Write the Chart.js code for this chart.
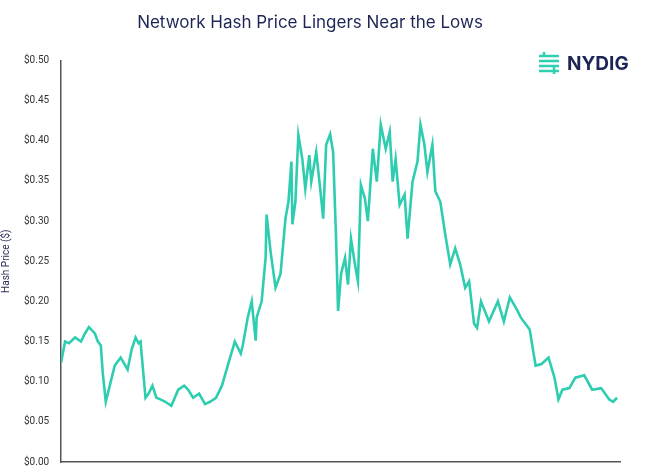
<!DOCTYPE html>
<html>
<head>
<meta charset="utf-8">
<script src="https://cdn.jsdelivr.net/npm/chart.js@4.4.0/dist/chart.umd.min.js"></script>
<style>
  body { margin: 0; background: #fff; overflow: hidden; }
  #wrap { position: relative; width: 660px; height: 469px; overflow: hidden; }
  #logo { position: absolute; left: 536px; top: 50px; font: bold 19px "Inter", "Roboto", sans-serif; color: #1d2557; display: flex; align-items: center; }
  #logo svg { margin-right: 5px; }
</style>
</head>
<body>
<div id="wrap">
  <canvas id="hashChart" width="660" height="480"></canvas>
  <div id="logo">
    <svg width="26" height="26" viewBox="0 0 26 26">
      <path d="M3 6 H23 M3 11 H23 M3 16 H23 M3 21 H23" stroke="#2fcfb0" stroke-width="2.5" fill="none"/>
      <path d="M8 2 V6 M18 16 V24" stroke="#2fcfb0" stroke-width="2.5"/>
    </svg>NYDIG
  </div>
</div>
<script>
// positions along the time axis (arbitrary day-like units) and hash price in $
const xs = [0, 4, 8, 14, 20, 24, 28, 34, 37, 40, 42, 45, 50, 54, 60, 67, 71, 75, 78, 80,
  85, 88, 92, 96, 100, 105, 111, 118, 124, 128, 133, 139, 145, 150, 156, 162, 169, 175, 181, 183,
  188, 192, 196, 197, 202, 206, 207, 211, 216, 221, 226, 229, 232, 233, 236, 239, 243, 246, 250, 252,
  257, 261, 264, 267, 271, 274, 277, 279, 282, 286, 289, 292, 296, 299, 302, 306, 309, 314, 318, 322,
  327, 331, 334, 337, 341, 346, 349, 354, 359, 362, 366, 369, 374, 377, 382, 387, 392, 397, 402, 407,
  411, 416, 419, 423, 431, 440, 446, 452, 459, 463, 472, 478, 484, 491, 497, 501, 505, 512, 518, 527,
  535, 544, 552, 556, 560];
const hashPrice = [0.124, 0.15, 0.148, 0.155, 0.15, 0.16, 0.168, 0.16, 0.15, 0.145, 0.11, 0.075, 0.10, 0.12, 0.13, 0.115, 0.14, 0.155, 0.148, 0.15,
  0.08, 0.085, 0.095, 0.08, 0.078, 0.075, 0.07, 0.09, 0.095, 0.09, 0.08, 0.085, 0.072, 0.075, 0.08, 0.095, 0.125, 0.15, 0.135, 0.145,
  0.18, 0.20, 0.151, 0.18, 0.20, 0.254, 0.308, 0.262, 0.217, 0.234, 0.303, 0.324, 0.374, 0.296, 0.324, 0.407, 0.377, 0.34, 0.382, 0.349,
  0.386, 0.34, 0.303, 0.395, 0.408, 0.386, 0.278, 0.188, 0.234, 0.254, 0.221, 0.278, 0.246, 0.225, 0.345, 0.328, 0.30, 0.39, 0.349, 0.42,
  0.39, 0.411, 0.349, 0.377, 0.32, 0.333, 0.278, 0.349, 0.374, 0.42, 0.395, 0.361, 0.395, 0.337, 0.324, 0.283, 0.246, 0.266, 0.246, 0.217,
  0.225, 0.172, 0.167, 0.20, 0.175, 0.20, 0.175, 0.205, 0.19, 0.18, 0.165, 0.12, 0.122, 0.13, 0.105, 0.078, 0.09, 0.092, 0.105, 0.108,
  0.09, 0.092, 0.078, 0.075, 0.08];
const yTicks = [0, 0.05, 0.1, 0.15, 0.2, 0.25, 0.3, 0.35, 0.4, 0.45, 0.5];

const points = xs.map((x, i) => ({ x: x, y: hashPrice[i] }));

new Chart(document.getElementById("hashChart"), {
  type: "line",
  data: {
    datasets: [{
      data: points,
      borderColor: "#2ecdb0",
      borderWidth: 2.6,
      pointRadius: 0,
      tension: 0,
    }],
  },
  options: {
    responsive: false,
    animation: false,
    layout: { padding: { left: 0, right: 40, top: 0, bottom: 0 } },
    plugins: {
      legend: { display: false },
      tooltip: { enabled: false },
      title: {
        display: true,
        text: "Network Hash Price Lingers Near the Lows",
        color: "#1d2557",
        font: { family: "Inter, Roboto, sans-serif", size: 17, weight: "normal" },
        padding: { top: 13, bottom: 27 },
      },
    },
    scales: {
      x: {
        type: "linear",
        min: 0,
        max: 563,
        ticks: { display: false },
        grid: { display: false, drawTicks: false },
        border: { color: "#555", width: 1.5 },
      },
      y: {
        min: 0,
        max: 0.5,
        afterBuildTicks: (axis) => { axis.ticks = yTicks.map((v) => ({ value: v })); },
        ticks: {
          color: "#333",
          font: { family: "Roboto, sans-serif", size: 10 },
          padding: 12,
          callback: (v) => "$" + Number(v).toFixed(2),
        },
        grid: { display: false, drawTicks: false },
        border: { color: "#555", width: 1.5 },
        title: {
          display: true,
          text: "Hash Price ($)",
          color: "#2a2f5a",
          font: { family: "Roboto, sans-serif", size: 10 },
          padding: 0,
        },
      },
    },
  },
});
</script>
</body>
</html>
